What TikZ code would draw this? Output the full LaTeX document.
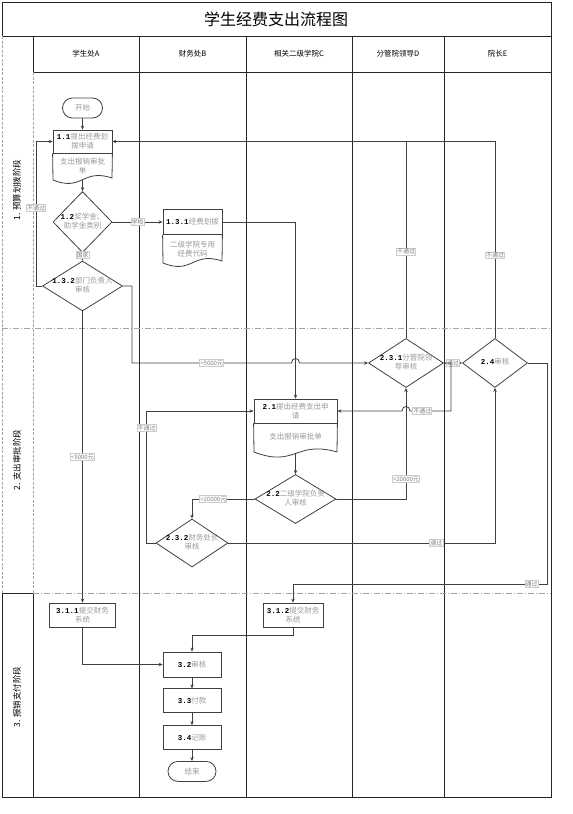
\documentclass[tikz,border=0pt]{standalone}
\usepackage{fontspec}
\setmainfont{Noto Sans CJK SC}
\setmonofont{Liberation Mono}
\usetikzlibrary{shapes.geometric,positioning,arrows.meta}

\newcommand{\sn}[1]{\textcolor{black}{\ttfamily\bfseries #1}}
\newcommand{\zt}[1]{\makebox[0pt]{\begin{tabular}{@{}c@{}}#1\end{tabular}}}

\begin{document}
\begin{tikzpicture}[
x=1pt,y=-1pt,
>={Stealth[length=4pt,width=3.4pt]},
every node/.style={font=\fontsize{7.5}{9}\selectfont,text=black!40,inner sep=1pt},
lane/.style={line width=0.9pt,black!85},
sep/.style={line width=0.8pt,black!35,dash pattern=on 6pt off 2pt on 1pt off 2pt},
hd/.style={text=black},
box/.style={draw=black!75,line width=0.8pt,align=center,minimum height=24pt},
dec/.style={draw=black!75,line width=0.8pt,diamond,inner sep=0pt},
term/.style={draw=black!75,line width=0.8pt,rounded corners=10pt,minimum width=#1,minimum height=20pt},
doc/.style={draw=black!75,line width=0.8pt},
ar/.style={->,line width=0.8pt,black!75},
ln/.style={line width=0.8pt,black!75},
lbl/.style={draw=black!20,fill=white,text=black!50,font=\fontsize{6}{7}\selectfont,inner sep=0.6pt}
]
\useasboundingbox (0,0) rectangle (573,814);

% frame and lanes
\draw[lane] (2,2) rectangle (551,36);
\node[hd,font=\fontsize{16}{18}\selectfont] (ttl) at (276,19) {学生经费支出流程图};
\draw[lane] (551,36) -- (551,797) -- (2,797);
\draw[lane] (33,36) -- (33,72) -- (551,72);
\foreach \x in {139,246,352,444} \draw[lane] (\x,36) -- (\x,797);
\draw[lane] (2,797) -- (2,593) -- (33,593) -- (33,797);
\draw[line width=0.8pt,black!35,dash pattern=on 3pt off 1.5pt] (2,36) -- (2,593);
\draw[line width=0.8pt,black!35,dash pattern=on 3pt off 1.5pt] (33,72) -- (33,593);
\draw[sep] (2,328) -- (551,328);
\draw[sep] (33,593) -- (551,593);

\node[hd] (hA) at (86,54) {学生处A};
\node[hd] (hB) at (192.5,54) {财务处B};
\node[hd] (hC) at (299,54) {相关二级学院C};
\node[hd] (hD) at (398,54) {分管院领导D};
\node[hd] (hE) at (497.5,54) {院长E};

\node[hd,rotate=90,font=\fontsize{8.5}{10}\selectfont] (ph1) at (17,190) {1. 预算划拨阶段};
\node[hd,rotate=90,font=\fontsize{8.5}{10}\selectfont] (ph2) at (17,460) {2. 支出审批阶段};
\node[hd,rotate=90,font=\fontsize{8.5}{10}\selectfont] (ph3) at (17,697) {3. 报销支付阶段};

% 1. budget
\node[term=40pt] (st) at (82.5,108) {开始};
\node[box,minimum width=59pt,minimum height=23pt] (h11) at (82.5,141.5) {\sn{1.1}提出经费划\\拨申请};
\draw[doc] (h11.south west) -- (53,180) .. controls (82.5,192) and (82.5,168) .. (112,178) -- (h11.south east);
\node[align=center] (b11) at (82.5,166) {支出报销审批\\单};
\coordinate (w11) at (82.5,180);
\node[dec,minimum width=59pt,minimum height=61pt] (d12) at (82.5,222) {\zt{\sn{1.2}奖学金、\\助学金类别}};
\node[box,minimum width=59pt,minimum height=25pt] (h131) at (192.5,222) {\sn{1.3.1}经费划拨};
\draw[doc] (h131.south west) -- (163,263) .. controls (192.5,275) and (192.5,251) .. (222,261) -- (h131.south east);
\node[align=center] (b131) at (192.5,249) {二级学院专用\\经费代码};
\node[dec,minimum width=80pt,minimum height=50pt] (d132) at (82.5,286) {\zt{\sn{1.3.2}部门负责人\\审核}};

% 2. approval
\node[dec,minimum width=75pt,minimum height=49pt] (d231) at (406,363) {\zt{\sn{2.3.1}分管院领\\导审核}};
\node[dec,minimum width=65pt,minimum height=49pt] (d24) at (495,363) {\zt{\sn{2.4}审核}};
\node[box,minimum width=83pt] (h21) at (295.5,411) {\sn{2.1}提出经费支出申\\请};
\draw[doc] (h21.south west) -- (254,452) .. controls (295.5,468) and (295.5,440) .. (337,452) -- (h21.south east);
\node (b21) at (295.5,437) {支出报销审批单};
\coordinate (w21) at (295.5,453);
\node[dec,minimum width=81pt,minimum height=49pt] (d22) at (295.5,499) {\zt{\sn{2.2}二级学院负责\\人审核}};
\node[dec,minimum width=72pt,minimum height=48pt] (d232) at (192,543) {\zt{\sn{2.3.2}财务处长\\审核}};

% 3. payment
\node[box,minimum width=66pt] (p311) at (82.5,615) {\sn{3.1.1}提交财务\\系统};
\node[box,minimum width=60pt] (p312) at (293,615) {\sn{3.1.2}提交财务\\系统};
\node[box,minimum width=58pt,minimum height=25pt] (p32) at (192,664.5) {\sn{3.2}审核};
\node[box,minimum width=58pt,below=11pt of p32] (p33) {\sn{3.3}付款};
\node[box,minimum width=58pt,below=12pt of p33] (p34) {\sn{3.4}记账};
\node[term=48pt,below=11pt of p34] (stop) {结束};

% connectors
\draw[ar] (st) -- (h11);
\draw[ar] (w11) -- (d12);
\draw[ar] (d12) -- node[lbl]{学校} (h131);
\draw[ar] (d12) -- node[lbl,pos=0.3]{国家} (d132);
\draw[ar] (d132.west) -- ++(-6,0) |- node[lbl,pos=0.27]{不通过} (h11.west);
\draw[ar] (d132.east) -- ++(9,0) |- node[lbl,pos=0.75]{>5000元} (291.5,363) .. controls (291.5,357) and (299.5,357) .. (299.5,363) -- (d231.west);
\draw[ar] (d132) -- node[lbl]{<5000元} (p311);
\draw[ar] (h131.east) -| (h21.north);
\draw[ar] (d231.north) |- node[lbl,pos=0.22]{不通过} (h11.east);
\draw[ln] (d24.north) |- node[lbl,pos=0.21]{不通过} (d231.north |- h11.east);
\draw[ar] (d231.east) -- node[lbl]{通过} (d24.west);
\draw[ar] (d231.east) -- ++(7,0) |- node[lbl,pos=0.85]{不通过} (410,411) .. controls (410,405) and (402,405) .. (402,411) -- (h21.east);
\draw[ar] (w21) -- (d22);
\draw[ar] (d22.west) -| node[lbl,pos=0.33]{>20000元} (d232.north);
\draw[ar] (d22.east) -| node[lbl,pos=0.59]{<20000元} (d231.south);
\draw[ar] (d232.west) -- ++(-9,0) |- node[lbl,pos=0.435]{不通过} (h21.west);
\draw[ar] (d232.east) -| node[lbl,pos=0.39]{通过} (d24.south);
\draw[ar] (d24.east) -- ++(19,0) |- node[lbl,pos=0.53]{通过} (p312.north |- 0,584) -- (p312.north);
\draw[ar] (p311.south) |- (p32.west);
\draw[ar] (p312.south) -- ++(0,8) -| (p32.north);
\draw[ar] (p32) -- (p33);
\draw[ar] (p33) -- (p34);
\draw[ar] (p34) -- (stop);
\end{tikzpicture}
\end{document}
